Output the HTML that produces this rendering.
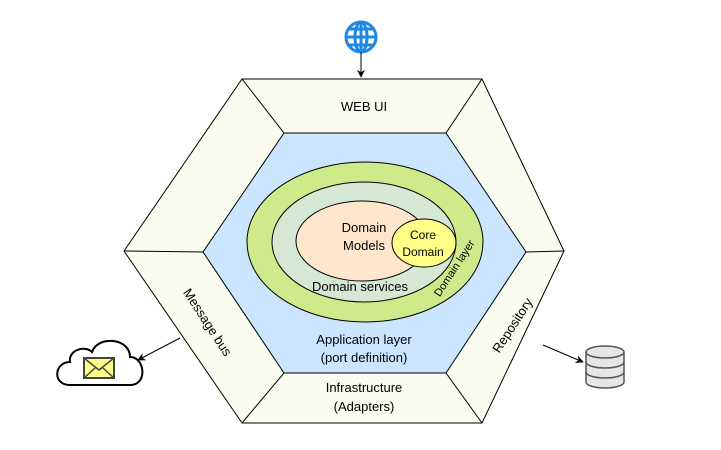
<!DOCTYPE html>
<html><head><meta charset="utf-8"><style>body{margin:0;background:#fff}svg{display:block}text{font-family:"Liberation Sans",sans-serif;fill:#000}</style></head><body>
<svg width="721" height="450" viewBox="0 0 721 450" xmlns="http://www.w3.org/2000/svg">
<defs><marker id="a" viewBox="0 0 10 10" refX="9" refY="5" markerWidth="8" markerHeight="8" orient="auto"><path d="M0,0 L10,5 L0,10 L3,5z" fill="#000"/></marker></defs>
<polygon points="242,79 482,79 564,251 482,423 242,423 124,251" fill="#f9fcee" stroke="#000" stroke-width="1"/>
<polygon points="284,133 446,133 526,252 446,373 284,373 203,252" fill="#cce5ff" stroke="#000" stroke-width="1"/>
<g stroke="#000" stroke-width="1">
<line x1="242" y1="79" x2="284" y2="133"/><line x1="482" y1="79" x2="446" y2="133"/>
<line x1="564" y1="251" x2="526" y2="252"/><line x1="124" y1="251" x2="203" y2="252"/>
<line x1="242" y1="423" x2="284" y2="373"/><line x1="482" y1="423" x2="446" y2="373"/>
</g>
<ellipse cx="365" cy="242" rx="118" ry="80" fill="#cdeb8b" stroke="#000"/>
<ellipse cx="364" cy="242" rx="92" ry="60" fill="#d5e8d4" stroke="#000"/>
<ellipse cx="362" cy="241" rx="66" ry="40" fill="#ffe6cc" stroke="#000"/>
<ellipse cx="424" cy="243" rx="32" ry="24" fill="#ffff88" stroke="#000"/>
<g font-size="13" text-anchor="middle">
<text x="364" y="111">WEB UI</text>
<text x="364" y="232">Domain</text><text x="364" y="250">Models</text>
<text x="423" y="239" font-size="12">Core</text><text x="423" y="256" font-size="12">Domain</text>
<text x="360" y="291">Domain services</text>
<text x="454" y="272" font-size="11" transform="rotate(-57 454 268)">Domain layer</text>
<text x="364" y="344">Application layer</text><text x="364" y="362">(port definition)</text>
<text x="364" y="392">Infrastructure</text><text x="364" y="411">(Adapters)</text>
<text x="208" y="327" transform="rotate(57 208 322)">Message bus</text>
<text x="512" y="330" transform="rotate(-57 512 325)">Repository</text>
</g>
<g stroke="#1e88e5" stroke-width="3" fill="none">
<circle cx="361" cy="37" r="15"/><ellipse cx="361" cy="37" rx="6" ry="15"/>
<line x1="361" y1="22" x2="361" y2="52"/><line x1="346" y1="37" x2="376" y2="37"/>
<line x1="349" y1="29" x2="373" y2="29"/><line x1="349" y1="45" x2="373" y2="45"/>
</g>
<line x1="361" y1="52" x2="361" y2="77" stroke="#000" marker-end="url(#a)"/>
<path d="M70,385 C52,385 54,362 70,362 C68,350 85,345 92,352 C98,335 130,338 130,357 C145,357 148,385 130,385 Z" fill="#fff" stroke="#000" stroke-width="2"/>
<rect x="84" y="358" width="30" height="20" fill="#ffff88" stroke="#444" stroke-width="2"/>
<path d="M84,358 L99,370 L114,358 M84,378 L95,368 M114,378 L103,368" stroke="#444" stroke-width="1.5" fill="none"/>
<line x1="180" y1="338" x2="138" y2="360" stroke="#000" marker-end="url(#a)"/>
<g fill="#e6e6e6" stroke="#555" stroke-width="1.5">
<path d="M586,352 L586,382 A19,6 0 0 0 624,382 L624,352"/>
<ellipse cx="605" cy="352" rx="19" ry="6"/>
<path d="M586,362 A19,6 0 0 0 624,362 M586,372 A19,6 0 0 0 624,372" fill="none"/>
</g>
<line x1="543" y1="345" x2="583" y2="362" stroke="#000" marker-end="url(#a)"/>
</svg>
</body></html>
